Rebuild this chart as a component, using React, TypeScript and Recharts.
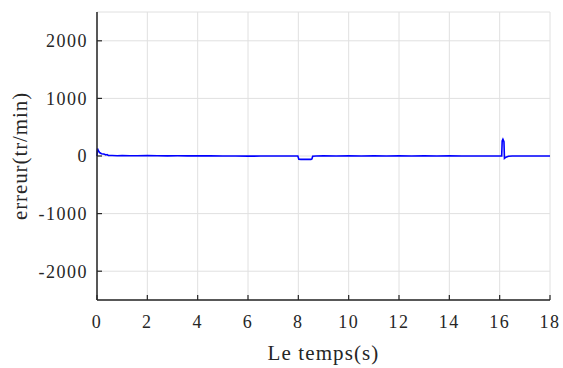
import { LineChart, Line, XAxis, YAxis, CartesianGrid } from 'recharts';

// temps (s) et erreur de vitesse (tr/min)
const temps = [
  0, 0.02, 0.05, 0.1, 0.18, 0.25, 0.3, 0.35, 0.4, 0.45, 0.6, 0.8, 1.0, 1.3, 1.6,
  2.0, 2.4, 2.8, 3.2, 3.6, 4.0, 4.5, 5.0, 5.5, 6.0, 6.5, 7.0, 7.5, 7.98, 8.02,
  8.1, 8.3, 8.5, 8.54, 8.57, 8.7, 9.0, 9.5, 10.0, 10.5, 11.0, 11.5, 12.0, 12.5,
  13.0, 13.5, 14.0, 14.5, 15.0, 15.5, 16.0, 16.08, 16.1, 16.13, 16.17, 16.19,
  16.25, 16.35, 16.5, 17.0, 17.5, 18.0,
];
const erreur = [
  0, 130, 95, 60, 40, 35, 30, 18, 25, 10, 8, 5, 6, 4, 5,
  6, 4, 3, 4, 2, 3, 2, 1, 0, -2, -1, 0, -1, 0, -55,
  -58, -57, -58, -50, -5, 0, 2, 1, 2, 1, 2, 1, 2, 1,
  2, 1, 2, 1, 1, 0, 1, 0, 260, 290, 250, -40,
  -20, -5, 0, 0, 0, 0,
];
const xTicks = [0, 2, 4, 6, 8, 10, 12, 14, 16, 18];
const yTicks = [-2000, -1000, 0, 1000, 2000];

const data = temps.map((t, i) => ({ t, erreur: erreur[i] }));

const font = 'Liberation Serif';
const ink = '#262626';
const hiddenTick = { fontSize: 0, fill: 'none' };

export default function App() {
  return (
    <div style={{ position: 'absolute', left: 0, top: 0, background: '#fff' }}>
      <LineChart width={563} height={368} data={data} margin={{ top: 12, right: 13, left: 0, bottom: 0 }}>
        <CartesianGrid stroke="#e0e0e0" strokeWidth={1} />
        <XAxis
          dataKey="t"
          type="number"
          domain={[0, 18]}
          ticks={xTicks}
          tickSize={-5}
          tickMargin={20}
          height={68}
          stroke={ink}
          strokeWidth={1.5}
          tickLine={{ stroke: ink, strokeWidth: 1.2 }}
          tick={{ fontFamily: font, fontSize: 18, letterSpacing: 1.5, fill: ink }}
          label={{ value: 'Le temps(s)', position: 'insideBottom', offset: 8, fontFamily: font, fontSize: 21, letterSpacing: 1.1, fill: ink }}
        />
        <XAxis
          xAxisId="top"
          orientation="top"
          type="number"
          domain={[0, 18]}
          ticks={xTicks}
          height={0}
          tickSize={-5}
          tick={hiddenTick}
          tickLine={{ stroke: ink, strokeWidth: 1.2 }}
          stroke={ink}
          strokeWidth={1.5}
        />
        <YAxis
          type="number"
          domain={[-2500, 2500]}
          ticks={yTicks}
          tickSize={-5}
          tickMargin={14}
          width={97}
          stroke={ink}
          strokeWidth={1.5}
          tickLine={{ stroke: ink, strokeWidth: 1.2 }}
          tick={{ fontFamily: font, fontSize: 18, letterSpacing: 1.5, fill: ink }}
          label={{ value: 'erreur(tr/min)', angle: -90, position: 'insideLeft', offset: 20, style: { textAnchor: 'middle' }, fontFamily: font, fontSize: 21, letterSpacing: 0.9, fill: ink }}
        />
        <YAxis
          yAxisId="right"
          orientation="right"
          type="number"
          domain={[-2500, 2500]}
          ticks={yTicks}
          width={0}
          tickSize={-5}
          tick={hiddenTick}
          tickLine={{ stroke: ink, strokeWidth: 1.2 }}
          stroke={ink}
          strokeWidth={1.5}
        />
        <Line
          dataKey="erreur"
          type="linear"
          stroke="#0000ff"
          strokeWidth={1.6}
          dot={false}
          isAnimationActive={false}
        />
      </LineChart>
    </div>
  );
}
